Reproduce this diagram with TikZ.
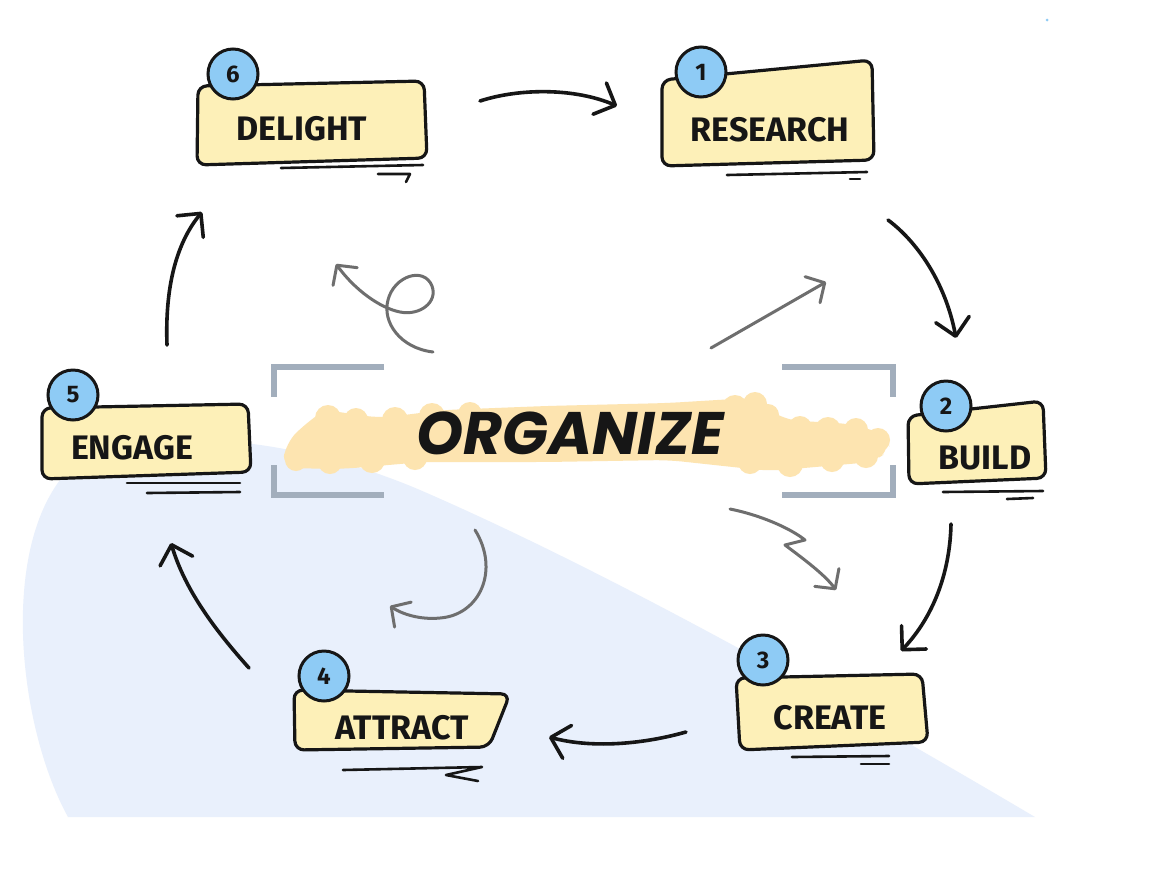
\documentclass[tikz,border=0pt]{standalone}
\usepackage{fontspec}
\setmainfont{Fira Sans}
\newfontfamily\orgfont{Poppins}
\usetikzlibrary{arrows.meta}
\definecolor{boxfill}{RGB}{253,240,184}
\definecolor{numfill}{RGB}{142,203,245}
\definecolor{bluebg}{RGB}{233,240,252}
\definecolor{hl}{RGB}{253,228,176}
\definecolor{brk}{RGB}{162,174,188}
\definecolor{garrow}{RGB}{110,110,110}
\definecolor{ink}{RGB}{22,22,22}
\begin{document}
\begin{tikzpicture}[x=1pt,y=-1pt,
  boxline/.style={draw=ink, line width=3.2pt, fill=boxfill, rounded corners=9pt, line join=round},
  numcirc/.style={circle, draw=ink, line width=3pt, fill=numfill, minimum size=50pt, inner sep=0pt,
     font=\fontsize{24}{24}\selectfont\bfseries, text=ink},
  labeltext/.style={font=\fontsize{34}{34}\selectfont\bfseries, text=ink, inner sep=0pt},
  uline/.style={draw=ink, line width=2.6pt, line cap=round, line join=round},
  flow/.style={draw=ink, line width=3.6pt, line cap=round,
     -{Straight Barb[length=17pt,width=34pt,round]}},
  garr/.style={draw=garrow, line width=3pt, line cap=round, line join=round,
     -{Straight Barb[length=14pt,width=30pt,round]}},
  bracket/.style={draw=brk, line width=6pt, line join=miter, line cap=butt}
]
\useasboundingbox (0,0) rectangle (1157,887);
\fill[white] (0,0) rectangle (1157,887);
\fill[numfill] (1047,20) circle (1.5);

% blue background region
\fill[bluebg] (1035,817) -- (68,817) .. controls (20,730) and (0,560) .. (60,480)
  .. controls (110,420) and (280,430) .. (420,490)
  .. controls (600,568) and (820,690) .. (1035,817) -- cycle;

% highlighter stroke
\fill[hl, rounded corners=14pt] (282,468) -- (286,443) -- (305,424) -- (325,410)
  -- (380,418) -- (444,410) -- (546,406) -- (668,403) -- (717,400) -- (752,398)
  -- (785,420) -- (852,424) -- (884,434) -- (891,450) -- (872,462) -- (770,471) -- (668,460)
  -- (546,462) -- (423,462) -- (342,469) -- cycle;
\foreach \x/\y/\r in {328/418/13,356/420/12,395/420/13,432/416/13,470/414/12,
   735/408/13,755/404/12,768/415/11,800/428/12,828/430/13,856/430/12,878/440/12,
   296/460/11,330/462/12,372/460/13,415/458/12,750/462/12,790/464/13,832/460/12,866/456/12}
  \fill[hl] (\x,\y) circle (\r);

% brackets
\draw[bracket] (384,367) -- (274,367) -- (274,397);
\draw[bracket] (274,465) -- (274,495) -- (384,495);
\draw[bracket] (782,367) -- (893,367) -- (893,397);
\draw[bracket] (893,465) -- (893,495) -- (782,495);

\node[font=\orgfont\fontsize{60}{60}\selectfont\bfseries\itshape, text=ink, inner sep=0pt] (org) at (570,433) {ORGANIZE};

% boxes
\draw[boxline] (198,86) -- (424,81) -- (427,158) -- (197,165) -- cycle;
\draw[boxline] (662,80) -- (872,60) -- (874,160) -- (662,166) -- cycle;
\draw[boxline] (908,416) -- (1043,401) -- (1046,478) -- (909,484) -- cycle;
\draw[boxline] (736,678) -- (922,674) -- (928,742) -- (740,750) -- cycle;
\draw[boxline] (294,690) -- (510,694) -- (489,747) -- (295,750) -- cycle;
\draw[boxline] (42,408) -- (248,404) -- (251,472) -- (42,479) -- cycle;

% labels
\node[labeltext] (delight)  at (302,129) {DELIGHT};
\node[labeltext] (research) at (770,130) {RESEARCH};
\node[labeltext] (build)    at (985,458) {BUILD};
\node[labeltext] (create)   at (830,718) {CREATE};
\node[labeltext] (attract)  at (402,728) {ATTRACT};
\node[labeltext] (engage)   at (132,448) {ENGAGE};

% number circles
\node[numcirc] (c6) at (233,74)  {6};
\node[numcirc] (c1) at (701,72)  {1};
\node[numcirc] (c2) at (946,406) {2};
\node[numcirc] (c3) at (763,660) {3};
\node[numcirc] (c4) at (324,676) {4};
\node[numcirc] (c5) at (73,395)  {5};

% underlines
\draw[uline] (281,168) -- (423,165);
\draw[uline] (378,174) -- (410,174) -- (406,182);
\draw[uline] (727,175) -- (867,172);
\draw[uline] (850,179) -- (860,179);
\draw[uline] (943,492) -- (1043,491);
\draw[uline] (1007,499) -- (1033,498);
\draw[uline] (792,757) -- (889,756);
\draw[uline] (861,764) -- (889,764);
\draw[uline] (343,770) -- (482,767) -- (446,775) -- (478,781);
\draw[uline] (127,483) -- (240,483);
\draw[uline] (147,493) -- (240,492);

% connector end points
\coordinate (a1s) at (480,101);  \coordinate (a1e) at (617,106);
\coordinate (a2s) at (888,220);  \coordinate (a2e) at (956,338);
\coordinate (a3s) at (951,524);  \coordinate (a3e) at (901,651);
\coordinate (a4s) at (686,732);  \coordinate (a4e) at (549,737);
\coordinate (a5s) at (249,668);  \coordinate (a5e) at (171,543);
\coordinate (a6s) at (167,345);  \coordinate (a6e) at (202,212);

\draw[flow] (a1s) .. controls (520,88) and (575,88) .. (a1e);
\draw[flow] (a2s) .. controls (915,240) and (945,280) .. (a2e);
\draw[flow] (a3s) .. controls (950,570) and (935,615) .. (a3e);
\draw[flow] (a4s) .. controls (640,745) and (590,748) .. (a4e);
\draw[flow] (a5s) .. controls (215,630) and (185,590) .. (a5e);
\draw[flow] (a6s) .. controls (165,290) and (175,245) .. (a6e);

% grey arrows around ORGANIZE
\coordinate (g1s) at (433,352); \coordinate (g1e) at (336,264);
\coordinate (g2s) at (711,348); \coordinate (g2e) at (826,282);
\coordinate (g3s) at (475,530); \coordinate (g3e) at (390,606);
\coordinate (g4s) at (730,509); \coordinate (g4e) at (836,590);

\draw[garr] (g1s) .. controls (400,348) and (382,322) .. (388,300)
   .. controls (394,276) and (424,266) .. (432,286)
   .. controls (438,302) and (420,316) .. (400,312)
   .. controls (380,308) and (355,290) .. (g1e);
\draw[garr] (g2s) -- (g2e);
\draw[garr] (g3s) .. controls (500,570) and (480,615) .. (440,618)
   .. controls (420,620) and (402,614) .. (g3e);
\draw[garr] (g4s) .. controls (760,515) and (790,528) .. (805,540) -- (785,545)
   .. controls (805,560) and (825,575) .. (g4e);
\end{tikzpicture}
\end{document}
